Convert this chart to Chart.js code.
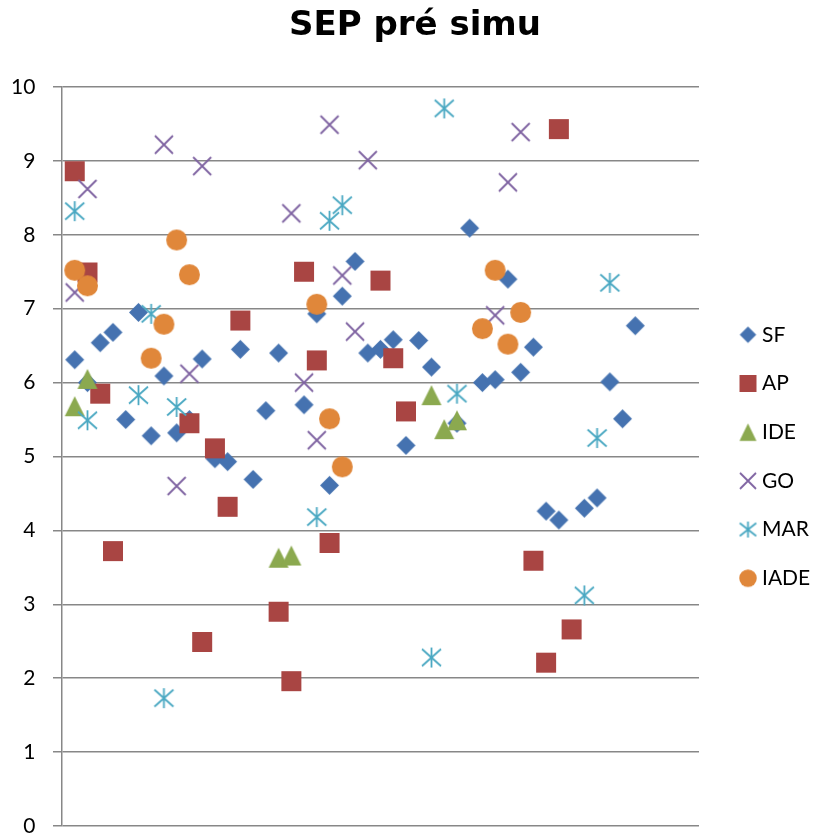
<!DOCTYPE html>
<html>
<head>
<meta charset="utf-8">
<script src="https://cdn.jsdelivr.net/npm/chart.js@4/dist/chart.umd.min.js"></script>
<style>
html,body{margin:0;padding:0;background:#fff;}
#wrap{width:817px;height:836px;}
</style>
</head>
<body>
<div id="wrap"><canvas id="c" width="817" height="836"></canvas></div>
<script>
// Category positions (1..45)
const positions = [1,2,3,4,5,6,7,8,9,10,11,12,13,14,15,16,17,18,19,20,21,22,23,24,25,26,27,28,29,30,31,32,33,34,35,36,37,38,39,40,41,42,43,44,45];

const seriesNames = ['SF','AP','IDE','GO','MAR','IADE'];

const SF   = [6.31,6.00,6.54,6.68,5.50,6.95,5.28,6.09,5.32,5.50,6.32,4.97,4.93,6.45,4.69,5.62,6.40,null,5.70,6.93,4.61,7.17,7.64,6.40,6.45,6.58,5.15,6.57,6.21,null,5.45,8.09,6.00,6.04,7.40,6.14,6.48,4.26,4.14,null,4.30,4.44,6.01,5.51,6.77];
const AP   = [8.86,7.49,5.85,3.72,null,null,null,null,null,5.45,2.49,5.11,4.32,6.84,null,null,2.90,1.96,7.50,6.30,3.83,null,null,null,7.38,6.33,5.61,null,null,null,null,null,null,null,null,null,3.59,2.21,9.43,2.66,null,null,null,null,null];
const IDE  = [5.68,6.05,null,null,null,null,null,null,null,null,null,null,null,null,null,null,3.63,3.66,null,null,null,null,null,null,null,null,null,null,5.83,5.37,5.49,null,null,null,null,null,null,null,null,null,null,null,null,null,null];
const GO   = [7.22,8.62,null,null,null,null,null,9.22,4.60,6.12,8.93,null,null,null,null,null,null,8.29,6.00,5.22,9.49,7.45,6.69,9.01,null,null,null,null,null,null,null,null,null,6.91,8.71,9.39,null,null,null,null,null,null,null,null,null];
const MAR  = [8.32,5.49,null,null,null,5.83,6.93,1.73,5.67,null,null,null,null,null,null,null,null,null,null,4.18,8.19,8.40,null,null,null,null,null,null,2.28,9.71,5.85,null,null,null,null,null,null,null,null,null,3.12,5.25,7.35,null,null];
const IADE = [7.52,7.31,null,null,null,null,6.33,6.79,7.93,7.46,null,null,null,null,null,null,null,null,null,7.06,5.51,4.86,null,null,null,null,null,null,null,null,null,null,6.73,7.52,6.52,6.95,null,null,null,null,null,null,null,null,null];

const yTicks = [0,1,2,3,4,5,6,7,8,9,10];

const colors = ['#4572B0','#A94543','#8BA94F','#7E62A1','#4AA8C2','#E0873A'];
const shapes = ['diamond','square','triangle','x','star','circle'];

function marker(shape, color, w, h) {
  const pad = 2;
  const c = document.createElement('canvas');
  c.width = Math.round(w + pad * 2);
  c.height = Math.round(h + pad * 2);
  const g = c.getContext('2d');
  const cx = c.width / 2, cy = c.height / 2;
  g.fillStyle = color; g.strokeStyle = color;
  g.beginPath();
  switch (shape) {
    case 'diamond':
      g.moveTo(cx, cy - h/2); g.lineTo(cx + w/2, cy); g.lineTo(cx, cy + h/2); g.lineTo(cx - w/2, cy);
      g.closePath(); g.fill(); break;
    case 'square':
      g.rect(cx - w/2, cy - h/2, w, h); g.fill(); break;
    case 'triangle':
      g.moveTo(cx, cy - h/2); g.lineTo(cx + w/2, cy + h/2); g.lineTo(cx - w/2, cy + h/2);
      g.closePath(); g.fill(); break;
    case 'circle':
      g.ellipse(cx, cy, w/2, h/2, 0, 0, Math.PI * 2); g.fill(); break;
    case 'x':
      g.lineWidth = 1.8;
      g.moveTo(cx - w/2, cy - h/2); g.lineTo(cx + w/2, cy + h/2);
      g.moveTo(cx + w/2, cy - h/2); g.lineTo(cx - w/2, cy + h/2);
      g.stroke(); break;
    case 'star':
      g.lineWidth = 1.8;
      g.moveTo(cx, cy - h/2); g.lineTo(cx, cy + h/2);
      g.moveTo(cx - w/2, cy - h/2 + 1.5); g.lineTo(cx + w/2, cy + h/2 - 1.5);
      g.moveTo(cx + w/2, cy - h/2 + 1.5); g.lineTo(cx - w/2, cy + h/2 - 1.5);
      g.stroke(); break;
  }
  return c;
}

const plotSizes = [[19,19],[20,20],[20,20],[18,18],[19,20],[21,21]];
const legendSizes = [[16.5,16.5],[17,17],[17,17.5],[16,16],[16.5,16],[17.5,17.5]];
const plotMarkers = shapes.map((s, i) => marker(s, colors[i], plotSizes[i][0], plotSizes[i][1]));
const legendMarkers = shapes.map((s, i) => marker(s, colors[i], legendSizes[i][0], legendSizes[i][1]));

const seriesValues = [SF, AP, IDE, GO, MAR, IADE];

const datasets = seriesNames.map((name, i) => ({
  label: name,
  data: positions.map((x, k) => ({x: x, y: seriesValues[i][k]})).filter(p => p.y !== null),
  pointStyle: plotMarkers[i],
  pointRadius: 9,
  backgroundColor: colors[i],
  borderColor: colors[i],
  showLine: false,
  order: seriesNames.length - i,
  clip: false
}));

const GRID = '#878787';

new Chart(document.getElementById('c'), {
  type: 'scatter',
  data: { datasets },
  options: {
    responsive: false,
    animation: false,
    events: [],
    layout: { padding: { left: 17.2, right: 4.2, top: 0, bottom: 0 } },
    scales: {
      x: {
        type: 'linear', min: 0, max: 50,
        display: true,
        grid: { display: false, drawTicks: false },
        border: { display: false },
        ticks: { display: false },
        afterFit: s => { s.height = 8; s.paddingLeft = 0; s.paddingRight = 0; }
      },
      y: {
        type: 'linear', min: 0, max: 10,
        position: 'left',
        afterBuildTicks: s => { s.ticks = yTicks.map(v => ({value: v})); },
        grid: { color: GRID, lineWidth: 1.5, tickLength: 9, drawTicks: true },
        border: { display: true, color: GRID, width: 1.5 },
        ticks: { color: '#000', font: { family: 'Lato', size: 21 }, mirror: true, crossAlign: 'far', padding: -50.9 },
        afterFit: s => { s.width = 44.8; s.paddingTop = 0; s.paddingBottom = 0; }
      },
      y2: {
        type: 'linear', position: 'right', display: true,
        grid: { display: false, drawTicks: false },
        border: { display: false },
        ticks: { display: false },
        afterFit: s => { s.width = 17.8; s.paddingTop = 0; s.paddingBottom = 0; }
      }
    },
    plugins: {
      title: {
        display: true,
        text: 'SEP pré simu',
        color: '#000',
        font: { family: 'DejaVu Sans', size: 34, weight: 'bold', lineHeight: 1.2 },
        padding: { top: 6.2, bottom: 40 }
      },
      legend: {
        display: true,
        position: 'right',
        fullSize: false,
        maxWidth: 96,
        labels: {
          usePointStyle: true,
          boxWidth: 7,
          boxHeight: 7,
          padding: 27.7,
          color: '#000',
          font: { family: 'Lato', size: 21 },
          sort: (a, b) => a.datasetIndex - b.datasetIndex,
          generateLabels: chart => {
            const items = Chart.defaults.plugins.legend.labels.generateLabels(chart);
            items.forEach(it => { it.pointStyle = legendMarkers[it.datasetIndex]; });
            return items;
          }
        }
      },
      tooltip: { enabled: false }
    }
  }
});
</script>
</body>
</html>
